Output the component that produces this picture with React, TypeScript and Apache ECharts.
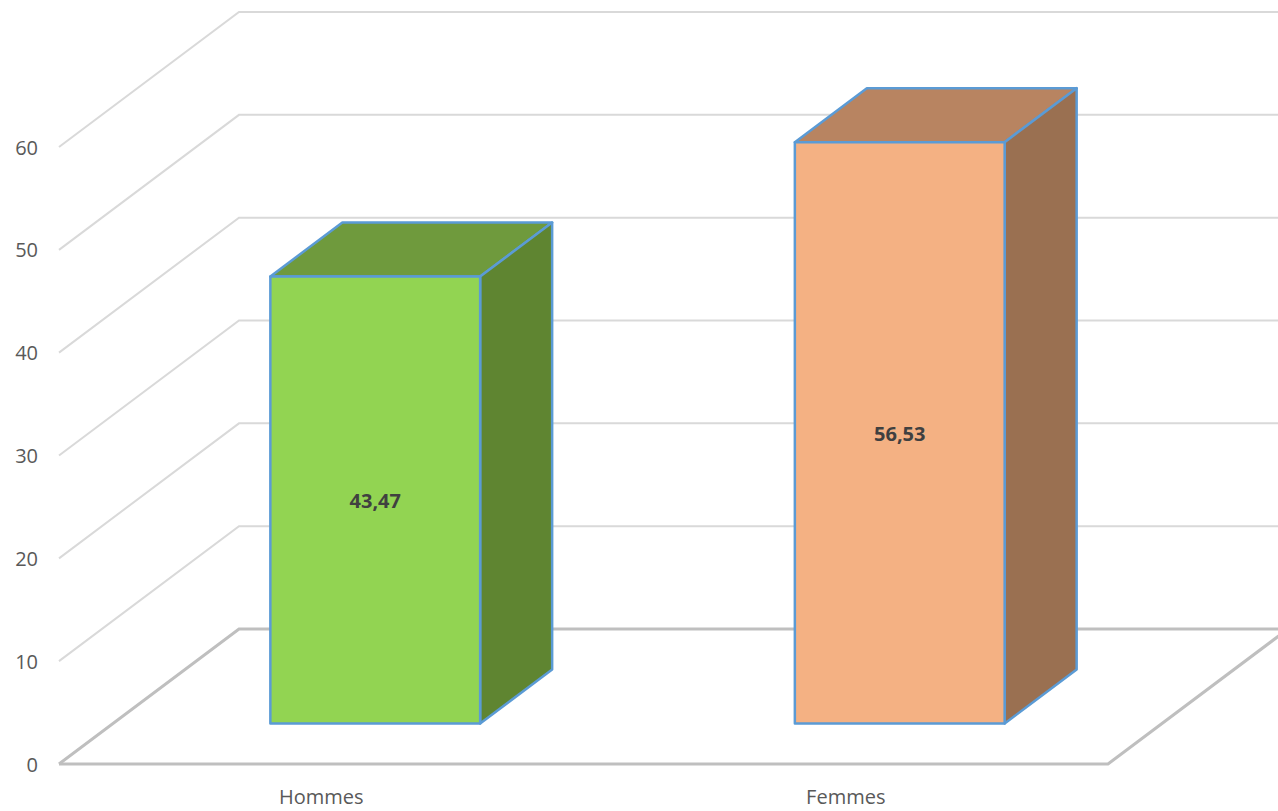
import React, { useEffect, useRef } from "react";
import * as echarts from "echarts";

const categories = ["Hommes", "Femmes"];
const values = [43.47, 56.53];
const gridTicks = [0, 10, 20, 30, 40, 50, 60];

const frontColors = ["#92D452", "#F4B183"];
const topColors = ["#6F9A3D", "#B88461"];
const sideColors = ["#5F8531", "#9A7051"];
const edgeColor = "#5B9BD5";
const FONT = "'Open Sans'";

const WALL_DX = 180;
const WALL_DY = 135;
const BAR_START = 0.3;
const BAR_DEPTH = 0.4;
const BAR_WIDTH = 0.4;

const formatValue = (v: number) => v.toFixed(2).replace(".", ",");

function renderWalls(params: any, api: any) {
  const cs = params.coordSys;
  const v = api.value(1);
  const y = api.coord([0, v])[1];
  const isFloor = v === 0;
  const style = {
    fill: "none",
    stroke: isFloor ? "#BFBFBF" : "#D9D9D9",
    lineWidth: isFloor ? 3 : 2,
    lineJoin: "miter",
  };
  const left = cs.x;
  const right = cs.x + cs.width;
  const children: any[] = [
    {
      type: "polyline",
      shape: {
        points: [
          [left, y],
          [left + WALL_DX, y - WALL_DY],
          [right + WALL_DX, y - WALL_DY],
        ],
      },
      style,
    },
  ];
  if (isFloor) {
    children.push({
      type: "polyline",
      shape: {
        points: [
          [left, y],
          [right, y],
          [right + WALL_DX, y - WALL_DY],
        ],
      },
      style,
    });
  }
  return { type: "group", children };
}

function renderBars(params: any, api: any) {
  const i = api.value(0);
  const v = api.value(1);
  const band = api.size([1, 0])[0];
  const center = api.coord([i, 0])[0];
  const y0 = api.coord([i, 0])[1];
  const yv = api.coord([i, v])[1];
  const sx = WALL_DX * BAR_START;
  const sy = WALL_DY * BAR_START;
  const w = band * BAR_WIDTH;
  const l = center + sx - w / 2;
  const r = l + w;
  const b = y0 - sy;
  const t = yv - sy;
  const dx = WALL_DX * BAR_DEPTH;
  const dy = WALL_DY * BAR_DEPTH;
  const edge = { stroke: edgeColor, lineWidth: 2.5, lineJoin: "round" };
  return {
    type: "group",
    children: [
      {
        type: "polygon",
        shape: { points: [[l, t], [r, t], [r + dx, t - dy], [l + dx, t - dy]] },
        style: { fill: topColors[i], ...edge },
      },
      {
        type: "polygon",
        shape: { points: [[r, t], [r + dx, t - dy], [r + dx, b - dy], [r, b]] },
        style: { fill: sideColors[i], ...edge },
      },
      {
        type: "polygon",
        shape: { points: [[l, t], [r, t], [r, b], [l, b]] },
        style: { fill: frontColors[i], ...edge },
      },
      {
        type: "text",
        style: {
          text: formatValue(v),
          x: (l + r) / 2,
          y: (t + b) / 2 + 1,
          align: "center",
          verticalAlign: "middle",
          fill: "#404040",
          font: `bold 20px ${FONT}`,
        },
      },
    ],
  };
}

export default function App() {
  const ref = useRef<HTMLDivElement>(null);
  useEffect(() => {
    const chart = echarts.init(ref.current!, undefined, { renderer: "svg" });
    chart.setOption({
      animation: false,
      backgroundColor: "#FFFFFF",
      grid: { left: 59, right: 170, top: 147, bottom: 47, containLabel: false },
      xAxis: {
        type: "category",
        data: categories,
        axisLine: { show: false },
        axisTick: { show: false },
        axisLabel: { color: "#595959", fontSize: 20, fontFamily: "Open Sans", margin: 22 },
      },
      yAxis: {
        type: "value",
        min: 0,
        max: 60,
        interval: 10,
        axisLine: { show: false },
        axisTick: { show: false },
        splitLine: { show: false },
        axisLabel: { color: "#595959", fontSize: 20, fontFamily: "Open Sans", margin: 21 },
      },
      series: [
        {
          type: "custom",
          silent: true,
          clip: false,
          renderItem: renderWalls,
          data: gridTicks.map((v) => [0, v]),
          encode: { x: 0, y: 1 },
          z: 1,
        },
        {
          type: "custom",
          silent: true,
          clip: false,
          renderItem: renderBars,
          data: values.map((v, i) => [i, v]),
          encode: { x: 0, y: 1 },
          z: 2,
        },
      ],
    });
    return () => chart.dispose();
  }, []);
  return (
    <div
      ref={ref}
      style={{ position: "absolute", left: 0, top: 0, width: 1278, height: 811, overflow: "hidden" }}
    />
  );
}
